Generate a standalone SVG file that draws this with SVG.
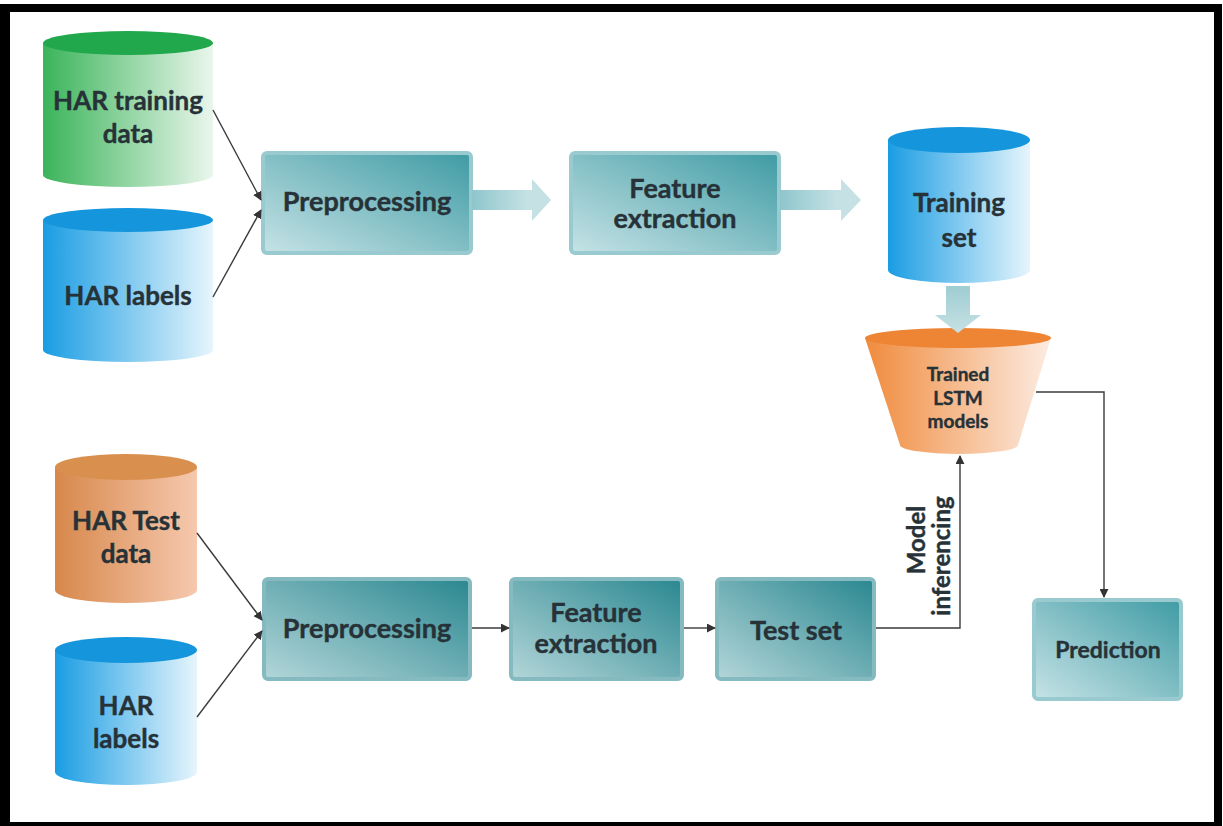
<svg xmlns="http://www.w3.org/2000/svg" width="1223" height="826" viewBox="0 0 1223 826">
  <defs>
    <linearGradient id="gGreen" x1="0" y1="0" x2="1" y2="0">
      <stop offset="0" stop-color="#3bb45a"/>
      <stop offset="1" stop-color="#eaf6ec"/>
    </linearGradient>
    <linearGradient id="gBlue" x1="0" y1="0" x2="1" y2="0">
      <stop offset="0" stop-color="#1a9de3"/>
      <stop offset="1" stop-color="#e6f5fc"/>
    </linearGradient>
    <linearGradient id="gOrange" x1="0" y1="0" x2="1" y2="0">
      <stop offset="0" stop-color="#d7884b"/>
      <stop offset="1" stop-color="#f6c8ae"/>
    </linearGradient>
    <linearGradient id="gLstm" x1="0" y1="0" x2="1" y2="0">
      <stop offset="0" stop-color="#f08b3d"/>
      <stop offset="1" stop-color="#fcece2"/>
    </linearGradient>
    <linearGradient id="gBoxTop" x1="0" y1="1" x2="1" y2="0">
      <stop offset="0" stop-color="#c6e3e6"/>
      <stop offset="1" stop-color="#3f9ba4"/>
    </linearGradient>
    <linearGradient id="gBoxBot" x1="0" y1="1" x2="1" y2="0">
      <stop offset="0" stop-color="#b3d6d9"/>
      <stop offset="1" stop-color="#2a8790"/>
    </linearGradient>
    <linearGradient id="gFat" x1="0" y1="0" x2="1" y2="0">
      <stop offset="0" stop-color="#8ec6cc"/>
      <stop offset="0.7" stop-color="#c5e1e4"/>
      <stop offset="1" stop-color="#c5e1e4"/>
    </linearGradient>
    <linearGradient id="gFatV" x1="0" y1="0" x2="0" y2="1">
      <stop offset="0" stop-color="#9fcdd2"/>
      <stop offset="1" stop-color="#c5e1e4"/>
    </linearGradient>
    <marker id="arr" viewBox="0 0 10 10" refX="9" refY="5" markerWidth="9" markerHeight="9" markerUnits="userSpaceOnUse" orient="auto">
      <path d="M0,0 L10,5 L0,10 Z" fill="#333"/>
    </marker>
  </defs>
  <style>
    .lbl { font-family: Lato, "Open Sans", "Liberation Sans", sans-serif; font-weight: bold; fill: #263238; stroke: #263238; stroke-width: 0.4; text-anchor: middle; }
    .big { font-size: 27px; }
    .cyl { font-size: 26px; }
    .mid { font-size: 23px; }
    .rot { font-size: 24px; }
    .sm { font-size: 19px; }
    .boxT { fill: url(#gBoxTop); stroke: #98cacf; stroke-width: 4; }
    .boxB { fill: url(#gBoxBot); stroke: #84bac0; stroke-width: 4; }
    .wire { fill: none; stroke: #3a3a3a; stroke-width: 1.4; marker-end: url(#arr); }
  </style>

  <!-- frame -->
  <rect x="0" y="4" width="1222" height="822" fill="#000"/>
  <rect x="10" y="12" width="1204" height="810" fill="#fff"/>

  <!-- training data cylinder -->
  <g id="har-training-data">
    <path d="M43,43 V175 A85,12 0 0 0 213,175 V43 Z" fill="url(#gGreen)"/>
    <ellipse cx="128" cy="43" rx="85" ry="12" fill="#22a84c"/>
    <text class="lbl cyl" x="128" y="110">HAR training</text>
    <text class="lbl cyl" x="128" y="143">data</text>
  </g>

  <!-- training labels cylinder -->
  <g id="har-labels-train">
    <path d="M43,220 V350 A85,12 0 0 0 213,350 V220 Z" fill="url(#gBlue)"/>
    <ellipse cx="128" cy="220" rx="85" ry="12" fill="#1596dc"/>
    <text class="lbl cyl" x="128" y="305">HAR labels</text>
  </g>

  <!-- top pipeline -->
  <g id="preprocessing-train">
    <rect class="boxT" x="263" y="153" width="208" height="100" rx="4"/>
    <text class="lbl big" x="367" y="211">Preprocessing</text>
  </g>
  <g id="feature-extraction-train">
    <rect class="boxT" x="571" y="153" width="208" height="100" rx="4"/>
    <text class="lbl big" x="675" y="198">Feature</text>
    <text class="lbl big" x="675" y="228">extraction</text>
  </g>
  <g id="training-set">
    <path d="M888,140 V270 A71,13 0 0 0 1030,270 V140 Z" fill="url(#gBlue)"/>
    <ellipse cx="959" cy="140" rx="71" ry="13" fill="#1596dc"/>
    <text class="lbl cyl" x="959" y="212">Training</text>
    <text class="lbl cyl" x="959" y="247">set</text>
  </g>
  <g id="trained-lstm">
    <path d="M865,338 L900,445 A59,9 0 0 0 1018,445 L1051,338 Z" fill="url(#gLstm)"/>
    <ellipse cx="958" cy="338" rx="93" ry="10" fill="#ee8535"/>
    <text class="lbl sm" x="958" y="381">Trained</text>
    <text class="lbl sm" x="958" y="405">LSTM</text>
    <text class="lbl sm" x="958" y="428">models</text>
  </g>

  <!-- test side -->
  <g id="har-test-data">
    <path d="M55,467 V590 A71,13 0 0 0 197,590 V467 Z" fill="url(#gOrange)"/>
    <ellipse cx="126" cy="467" rx="71" ry="13" fill="#d9904f"/>
    <text class="lbl cyl" x="126" y="530">HAR Test</text>
    <text class="lbl cyl" x="126" y="563">data</text>
  </g>
  <g id="har-labels-test">
    <path d="M55,650 V772 A71,13 0 0 0 197,772 V650 Z" fill="url(#gBlue)"/>
    <ellipse cx="126" cy="650" rx="71" ry="13" fill="#1596dc"/>
    <text class="lbl cyl" x="126" y="715">HAR</text>
    <text class="lbl cyl" x="126" y="748">labels</text>
  </g>
  <g id="preprocessing-test">
    <rect class="boxB" x="264" y="579" width="206" height="100" rx="4"/>
    <text class="lbl big" x="367" y="638">Preprocessing</text>
  </g>
  <g id="feature-extraction-test">
    <rect class="boxB" x="511" y="579" width="171" height="100" rx="4"/>
    <text class="lbl big" x="596" y="622">Feature</text>
    <text class="lbl big" x="596" y="653">extraction</text>
  </g>
  <g id="test-set">
    <rect class="boxB" x="717" y="579" width="157" height="100" rx="4"/>
    <text class="lbl big" x="796" y="640">Test set</text>
  </g>
  <g id="prediction">
    <rect class="boxT" x="1034" y="600" width="147" height="99" rx="4"/>
    <text class="lbl mid" x="1108" y="658">Prediction</text>
  </g>

  <!-- connectors -->
  <g id="connectors">
    <path d="M472,190 H532 V179 L551,200 L532,221 V210 H472 Z" fill="url(#gFat)"/>
    <path d="M780,190 H841 V179 L861,200 L841,221 V210 H780 Z" fill="url(#gFat)"/>
    <path d="M946,286 V315 H935 L958,333 L981,315 H970 V286 Z" fill="url(#gFatV)"/>

    <line class="wire" x1="213" y1="110" x2="261" y2="200"/>
    <line class="wire" x1="213" y1="297" x2="261" y2="210"/>
    <line class="wire" x1="197" y1="533" x2="262" y2="620"/>
    <line class="wire" x1="197" y1="717" x2="262" y2="631"/>

    <line class="wire" x1="472" y1="628" x2="509" y2="628"/>
    <line class="wire" x1="684" y1="628" x2="715" y2="628"/>

    <path class="wire" d="M876,628 H960 V456"/>
    <path class="wire" d="M1036,392 H1104 V597"/>

    <text class="lbl rot" transform="translate(925,540) rotate(-90)" x="0" y="0">Model</text>
    <text class="lbl rot" transform="translate(950,556) rotate(-90)" x="0" y="0">inferencing</text>
  </g>
</svg>
